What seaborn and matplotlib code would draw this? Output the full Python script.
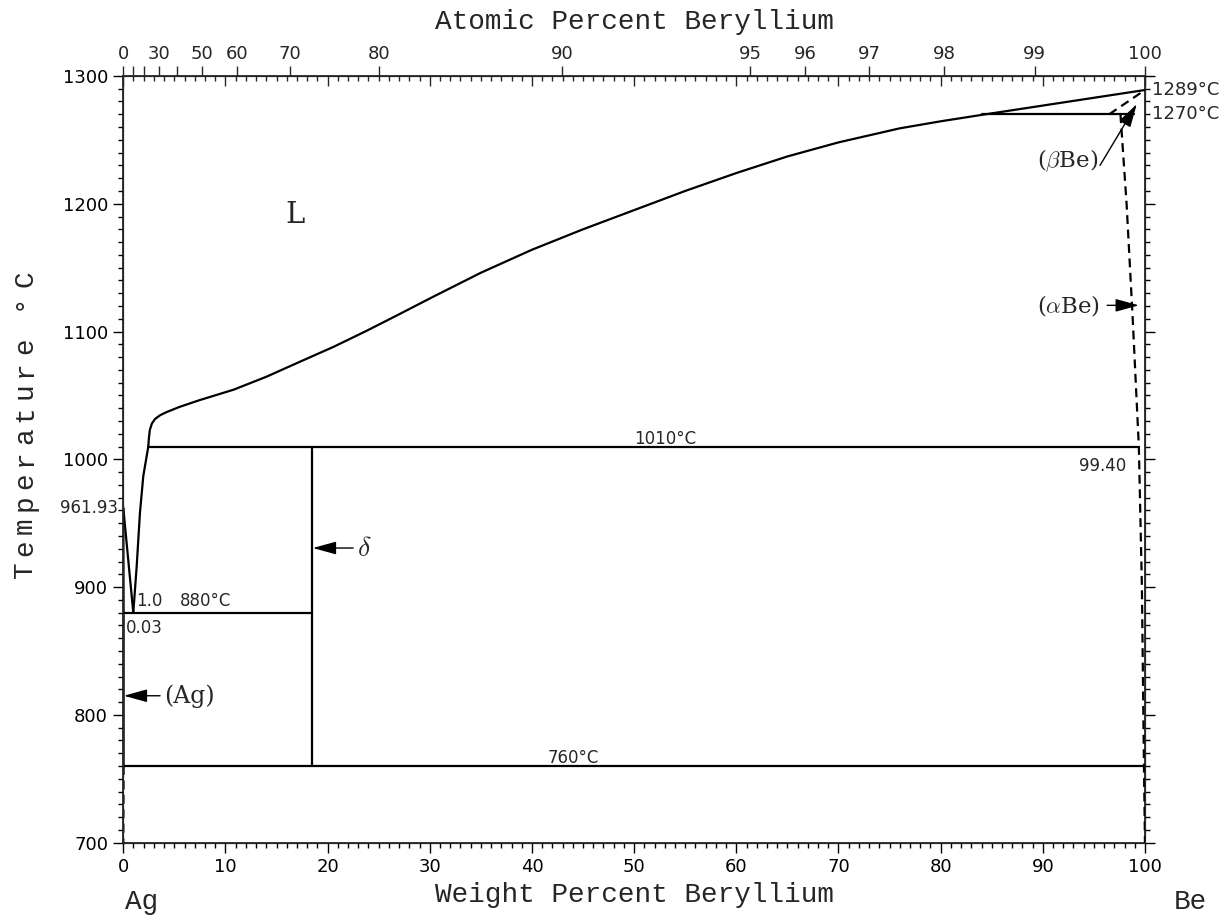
import numpy as np
import matplotlib
matplotlib.use('Agg')
import matplotlib.pyplot as plt
import seaborn as sns

# atomic masses for the top (atomic percent) axis
M_AG = 107.8682
M_BE = 9.012182

# liquidus, Ag side (Ag melting point to eutectic)
ag_liq_wt = [0.0, 0.98]
ag_liq_t = [961.93, 880]
# (Ag) solidus / solvus
ag_sol_wt = [0.0, 0.03, 0.03]
ag_sol_t = [961.93, 880, 760]
ag_solvus_dash_wt = [0.03, 0.0]
ag_solvus_dash_t = [760, 700]
# liquidus between eutectic and peritectic
delta_liq_wt = [0.98, 1.31, 1.63, 1.96, 2.45]
delta_liq_t = [880, 916, 958, 987, 1010]
# liquidus above 1010
liq_wt = [2.45, 2.5, 2.6, 2.8, 3.1, 3.6, 4.25, 5.5, 7.5, 10.8, 14.0, 17.3, 20.6, 23.8,
          27.0, 30.4, 35, 40, 45, 50, 55, 60, 65, 70, 76, 80, 84, 100]
liq_t = [1010, 1016, 1023, 1028, 1031.5, 1034.5, 1037, 1041, 1046.4, 1054.5, 1064.6,
         1076.4, 1088.1, 1100.5, 1113.5, 1127.5, 1146, 1164, 1180, 1195, 1210, 1224,
         1237, 1248, 1259, 1264.5, 1269.5, 1289]
# (betaBe) boundary
beta_dash_wt = [96.5, 100]
beta_dash_t = [1270, 1289]
# (alphaBe) solvus
alpha_wt = [97.6, 98.2, 98.8, 99.4, 99.7, 99.9, 100]
alpha_t = [1270, 1200, 1110, 1010, 900, 760, 700]

# invariant lines
eut_wt = [0.0, 18.5]
eut_t = 880
perit_wt = [2.45, 99.4]
perit_t = 1010
eutd_wt = [0.0, 100]
eutd_t = 760
beta_wt = [84, 98.9]
beta_t = 1270
delta_wt = 18.5
delta_t = [760, 1010]

at_ticks = [0, 10, 20, 30, 40, 50, 60, 70, 80, 90, 95, 96, 97, 98, 99, 100]
at_labels = ['0', '', '', '30', '', '50', '60', '70', '80', '90', '95', '96', '97', '98', '99', '100']


def at_to_wt(a):
    a = np.asarray(a, float)
    return 100 * a * M_BE / (a * M_BE + (100 - a) * M_AG)


sns.set_style('ticks')
plt.rcParams['font.family'] = ['DejaVu Sans']
plt.rcParams['mathtext.fontset'] = 'cm'

fig = plt.figure(figsize=(12.23, 9.16), dpi=100)
ax = fig.add_axes([0.1008, 0.08, 0.8354, 0.8371])


def line(x, y, dashed=False):
    sns.lineplot(x=x, y=y, ax=ax, color='black', lw=1.6, sort=False, estimator=None,
                 linestyle=(0, (4, 2.5)) if dashed else '-')


line(ag_liq_wt, ag_liq_t)
line(ag_sol_wt, ag_sol_t)
line(ag_solvus_dash_wt, ag_solvus_dash_t, dashed=True)
line(delta_liq_wt, delta_liq_t)
line(liq_wt, liq_t)
line(beta_dash_wt, beta_dash_t, dashed=True)
line(alpha_wt, alpha_t, dashed=True)
line(eut_wt, [eut_t] * 2)
line(perit_wt, [perit_t] * 2)
line(eutd_wt, [eutd_t] * 2)
line(beta_wt, [beta_t] * 2)
line([delta_wt] * 2, delta_t)

ax.set_xlim(0, 100)
ax.set_ylim(700, 1300)
ax.set_xticks(np.arange(0, 101, 10))
ax.set_xticks(np.arange(0, 101, 1), minor=True)
ax.set_yticks(np.arange(700, 1301, 100))
ax.set_yticks(np.arange(700, 1301, 10), minor=True)
ax.tick_params(which='both', direction='out', left=True, right=True, bottom=True, top=False,
               labelsize=13, width=1, colors='black')
ax.tick_params(which='major', length=7.5)
ax.tick_params(which='minor', length=3.8)
for s in ax.spines.values():
    s.set_linewidth(1.1)
    s.set_visible(True)
    s.set_color('black')

mono = 'Liberation Mono'
fig.text(0.519, 0.023, 'Weight Percent Beryllium', family=mono, fontsize=20,
         ha='center', va='center')
# letter-spaced vertical axis title, read bottom to top
ylab = 'Temperature °C'
for i, ch in enumerate(ylab):
    if ch != ' ':
        fig.text(32 / 1223, (916 - 570 + i * 22.4) / 916, ch, family=mono, fontsize=20,
                 rotation=90, rotation_mode='anchor', ha='center', va='baseline')

# inward weight-percent ticks on top
ax_in = ax.twiny()
ax_in.set_xlim(0, 100)
ax_in.set_xticks(np.arange(0, 101, 10))
ax_in.set_xticks(np.arange(0, 101, 1), minor=True)
ax_in.tick_params(which='both', direction='in', top=True, labeltop=False, bottom=False,
                  labelbottom=False, width=1)
ax_in.tick_params(which='major', length=7.5)
ax_in.tick_params(which='minor', length=3.8)

# atomic percent axis
ax_at = ax.twiny()
ax_at.set_xlim(0, 100)
ax_at.set_xticks(at_to_wt(at_ticks))
ax_at.set_xticklabels(at_labels)
ax_at.tick_params(which='major', direction='out', length=7.5, width=1, labelsize=13, pad=2)
ax_at.set_xlabel('Atomic Percent Beryllium', family=mono, fontsize=20, labelpad=11)

# annotations
serif = 'DejaVu Serif'
ax.text(16.8, 1191, 'L', family=serif, fontsize=21, ha='center', va='center')
ax.text(53, 1016, '1010°C', fontsize=12, ha='center', va='center')
ax.text(98.2, 995, '99.40', fontsize=12, ha='right', va='center')
ax.text(-0.5, 962, '961.93', fontsize=12, ha='right', va='center')
ax.text(1.3, 889, '1.0', fontsize=12, ha='left', va='center')
ax.text(5.5, 889, '880°C', fontsize=12, ha='left', va='center')
ax.text(0.3, 868, '0.03', fontsize=12, ha='left', va='center')
ax.text(44, 766, '760°C', fontsize=12, ha='center', va='center')
ax.text(100.7, 1289, '1289°C', fontsize=13, ha='left', va='center', clip_on=False)
ax.text(100.7, 1270, '1270°C', fontsize=13, ha='left', va='center', clip_on=False)
ax.text(95.4, 1234, r'($\beta$Be)', family=serif, fontsize=16.5, ha='right', va='center')
ax.text(95.6, 1120.5, r'($\alpha$Be)', family=serif, fontsize=16.5, ha='right', va='center')
ax.text(4.0, 815, '(Ag)', family=serif, fontsize=17, ha='left', va='center')
ax.text(22.9, 930.6, r'$\delta$', fontsize=20, ha='left', va='center')
ax.text(1.8, 654, 'Ag', family=mono, fontsize=20, ha='center', va='center', clip_on=False)
ax.text(104.4, 654, 'Be', family=mono, fontsize=20, ha='center', va='center', clip_on=False)

arrow = dict(arrowstyle='-|>,head_length=0.8,head_width=0.22', color='black', lw=1,
             mutation_scale=18, shrinkA=0, shrinkB=0)
ax.annotate('', xy=(99.2, 1278), xytext=(95.6, 1230), arrowprops=arrow)
ax.annotate('', xy=(99.4, 1120.5), xytext=(96.3, 1120.5), arrowprops=arrow)
ax.annotate('', xy=(0.05, 815), xytext=(3.6, 815), arrowprops=arrow)
ax.annotate('', xy=(18.55, 930.6), xytext=(22.5, 930.6), arrowprops=arrow)

fig.savefig('out.png', dpi=100)
